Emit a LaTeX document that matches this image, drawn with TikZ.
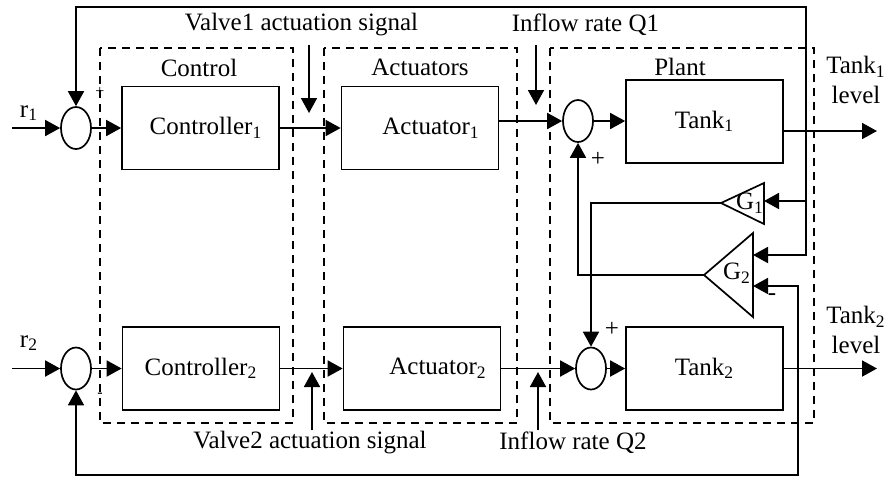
\documentclass[tikz,border=0pt]{standalone}
\usepackage{fontspec}
\setmainfont{Liberation Serif}
\usetikzlibrary{positioning,arrows.meta,shapes.geometric}

\begin{document}
\begin{tikzpicture}[x=0.5pt,y=-0.5pt,
        every node/.style={font=\fontsize{12.5}{15}\selectfont},
        blk/.style={draw,line width=0.85pt,minimum width=78.5pt,minimum height=41.5pt,inner sep=0pt},
        sum/.style={draw,ellipse,line width=0.85pt,minimum width=15pt,minimum height=21pt,inner sep=0pt},
        grp/.style={draw,line width=0.6pt,dash pattern=on 4pt off 3pt},
        sig/.style={-{Triangle[length=7.5pt,width=8pt]},line width=0.9pt},
        wire/.style={line width=0.85pt}]
        \useasboundingbox (0,0) rectangle (893,479);
        % dashed groups
        \draw[grp] (100,48) rectangle (293,423);
        \draw[grp] (324,48) rectangle (517,423);
        \draw[grp] (550,48) rectangle (814,423);
        \node (ctl) at (199,68) {Control};
        \node (act) at (420,67) {Actuators};
        \node (plt) at (680,67) {Plant};
        % blocks
        \node[sum] (s1) at (76,128) {};
        \node[sum] (s2) at (76,368.5) {};
        \node[sum] (s3) at (578,121) {};
        \node[sum] (s4) at (591,368.5) {};
        \node[blk] (c1) at (200.5,128) {\hspace{5.5pt}Controller\textsubscript{1}};
        \node[blk] (c2) at (201,368.5) {Controller\textsubscript{2}};
        \node[blk] (a1) at (420,128) {\hspace{11pt}Actuator\textsubscript{1}};
        \node[blk] (a2) at (422,368.5) {\hspace{16pt}Actuator\textsubscript{2}};
        \node[blk] (t1) at (704.5,121.5) {Tank\textsubscript{1}};
        \node[blk] (t2) at (704.5,368.5) {Tank\textsubscript{2}};
        % gains
        \coordinate (g1tip) at (721,203);
        \coordinate (g1in) at (764,201);
        \draw[wire] (g1tip) -- (764,183) -- (764,224) -- cycle;
        \node (g1) at (750,203) {G\textsubscript{1}};
        \coordinate (g2tip) at (704,275);
        \coordinate (g2ina) at (753,255);
        \coordinate (g2inb) at (753,286);
        \draw[wire] (g2tip) -- (753,233) -- (753,317) -- cycle;
        \node (g2) at (737,273) {G\textsubscript{2}};
        % inputs
        \coordinate (r1in) at (12,128);
        \coordinate (r2in) at (12,368.5);
        \node (r1) at (29,113) {r\textsubscript{1}};
        \node (r2) at (29,343) {r\textsubscript{2}};
        \draw[sig] (r1in) -- (s1);
        \draw[sig] (r2in) -- (s2);
        % forward paths
        \draw[sig] (s1) -- (c1);
        \draw[sig] (c1) -- (a1);
        \draw[sig] (a1.east |- s3) -- (s3);
        \draw[sig] (s3) -- (t1.west |- s3);
        \draw[sig] (s2) -- (c2);
        \draw[sig] (c2) -- (a2);
        \draw[sig] (a2) -- (s4);
        \draw[sig] (s4) -- (t2);
        % outputs and feedback
        \coordinate (j1) at (806,131);
        \coordinate (top) at (806,7);
        \coordinate (o1) at (877,131);
        \coordinate (j2) at (798,368.5);
        \coordinate (bot) at (798,475);
        \coordinate (o2) at (877,368.5);
        \draw[sig] (t1.east |- o1) -- (o1);
        \draw[sig] (t2) -- (o2);
        \draw[sig] (j1) -- (top) -| (s1.north);
        \draw[sig] (j1) |- (g2ina);
        \draw[sig] (j1 |- g1in) -- (g1in);
        \draw[sig] (j2) -- (bot) -| (s2.south);
        \draw[sig] (j2) |- (g2inb);
        \draw[sig] (g1tip) -| (s4.north);
        \draw[sig] (g2tip) -| (s3.south);
        \node[align=center] (l1) at (856,80) {Tank\textsubscript{1}\\level};
        \node[align=center] (l2) at (856,330) {Tank\textsubscript{2}\\level};
        % signal labels
        \node (v1) at (301.5,25) {Valve1 actuation signal};
        \node (q1) at (585.5,25) {Inflow rate Q1};
        \node (v2) at (310,443) {Valve2 actuation signal};
        \node (q2) at (573,443) {Inflow rate Q2};
        \coordinate (v1a) at (309,45);
        \coordinate (v1b) at (309,113);
        \coordinate (q1a) at (536,45);
        \coordinate (q1b) at (536,105);
        \coordinate (v2a) at (312,430);
        \coordinate (v2b) at (312,372);
        \coordinate (q2a) at (538,430);
        \coordinate (q2b) at (538,372);
        \draw[sig] (v1a) -- (v1b);
        \draw[sig] (q1a) -- (q1b);
        \draw[sig] (v2a) -- (v2b);
        \draw[sig] (q2a) -- (q2b);
        % signs
        \node[font=\footnotesize] (p1) at (100,92) {+};
        \node[font=\footnotesize] (m2) at (100,395) {-};
        \node (p3) at (598,159) {+};
        \node (p4) at (612,329) {+};
        \node (m5) at (772,297) {-};
\end{tikzpicture}
\end{document}
